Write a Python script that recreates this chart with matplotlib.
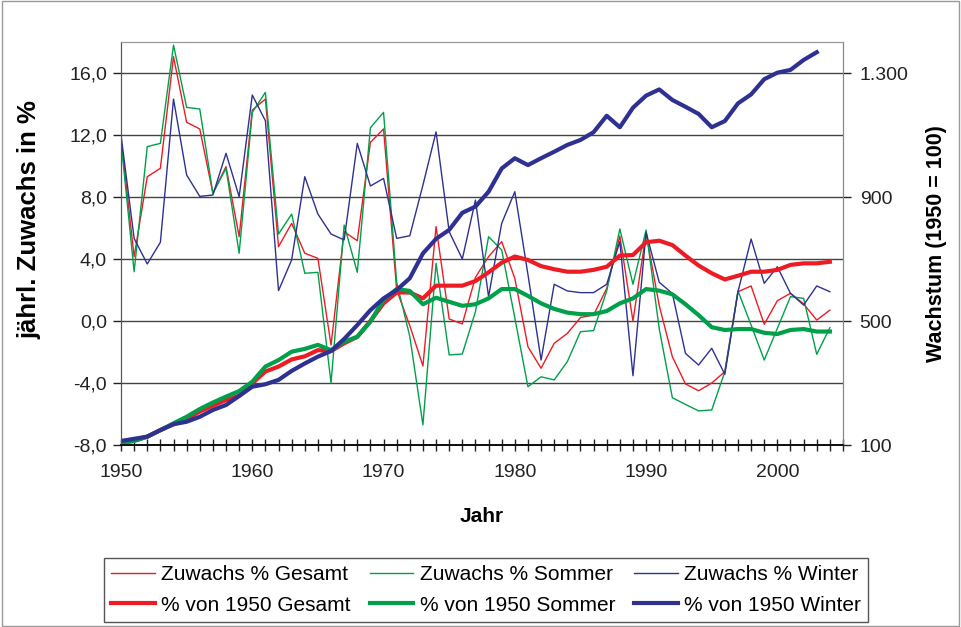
import numpy as np
import matplotlib
matplotlib.use("Agg")
import matplotlib.pyplot as plt
from matplotlib.ticker import MultipleLocator, FixedLocator, FuncFormatter
from matplotlib.patches import Rectangle

plt.rcParams['font.family'] = ['Liberation Sans', 'DejaVu Sans']

years = list(range(1950, 2005))

# jaehrlicher Zuwachs in % (linke Achse)
zuwachs_gesamt = [11.8, 4.15, 9.31, 9.85, 17.05, 12.82, 12.39, 8.24, 9.96, 5.44,
                  13.61, 14.32, 4.8, 6.3, 4.37, 4.04, -1.55, 5.76, 5.18, 11.53,
                  12.39, 2.0, -0.3, -2.9, 6.09, 0.13, -0.19, 2.82, 4.15, 5.12,
                  2.75, -1.66, -3.05, -1.44, -0.8, 0.22, 0.39, 2.1, 5.48, 0.0,
                  5.66, 1.0, -2.3, -4.06, -4.5, -4.0, -3.27, 1.89, 2.26, -0.21,
                  1.31, 1.79, 1.1, 0.06, 0.7]
zuwachs_sommer = [11.6, 3.18, 11.25, 11.46, 17.8, 13.78, 13.68, 8.24, 9.85, 4.37,
                  13.46, 14.75, 5.61, 6.9, 3.08, 3.14, -4.0, 6.19, 3.14, 12.47,
                  13.46, 2.5, -1.0, -6.7, 3.72, -2.19, -2.13, 0.6, 5.44, 4.58,
                  0.2, -4.24, -3.6, -3.8, -2.62, -0.69, -0.62, 1.94, 5.94, 2.37,
                  5.87, -0.5, -4.95, -5.38, -5.8, -5.74, -3.27, 1.94, -0.26, -2.52,
                  -0.47, 1.57, 1.46, -2.15, -0.43]
zuwachs_winter = [12.0, 5.33, 3.68, 5.08, 14.32, 9.42, 8.04, 8.13, 10.82, 8.02,
                  14.58, 12.92, 1.96, 3.94, 9.31, 6.9, 5.61, 5.23, 11.46, 8.71,
                  9.2, 5.33, 5.5, 8.77, 12.2, 5.76, 4.0, 7.8, 1.57, 6.3,
                  8.34, 3.0, -2.52, 2.37, 1.94, 1.83, 1.83, 2.37, 5.12, -3.53,
                  5.72, 2.5, 1.78, -2.09, -2.84, -1.76, -3.44, 1.89, 5.29, 2.43,
                  3.5, 1.78, 1.03, 2.26, 1.89]

# Wachstum, 1950 = 100 (rechte Achse)
index_gesamt = [108, 114, 127, 148, 167, 184, 208, 227, 245, 259,
                299, 337, 353, 376, 386, 406, 403, 428, 449, 500,
                557, 592, 592, 573, 614, 614, 614, 629, 657, 688,
                708, 697, 677, 667, 659, 659, 665, 675, 711, 713,
                754, 759, 745, 711, 679, 654, 634, 646, 659, 659,
                665, 681, 686, 686, 691]
index_sommer = [106, 113, 127, 148, 170, 191, 216, 237, 256, 274,
                304, 353, 374, 401, 410, 423, 406, 433, 449, 498,
                568, 603, 597, 554, 575, 562, 549, 554, 573, 603,
                603, 581, 557, 539, 527, 522, 522, 532, 557, 573,
                603, 598, 586, 554, 519, 480, 471, 474, 474, 462,
                458, 471, 474, 466, 466]
index_winter = [113, 120, 127, 148, 167, 175, 191, 213, 229, 258,
                288, 296, 310, 339, 363, 385, 403, 442, 487, 535,
                573, 600, 638, 718, 765, 794, 849, 869, 917, 992,
                1025, 1003, 1025, 1046, 1068, 1084, 1109, 1162, 1125, 1188,
                1227, 1247, 1213, 1191, 1168, 1125, 1145, 1202, 1231, 1280,
                1301, 1310, 1342, 1367, np.nan]

red = '#ed1c24'
green = '#00a04b'
blue = '#2e3192'

fig = plt.figure(figsize=(9.61, 6.27), dpi=100)
ax = fig.add_axes([121/961, 1-445/627, (843-121)/961, (445-42)/627])
ax2 = ax.twinx()

l1, = ax.plot(years, zuwachs_gesamt, color=red, lw=1.0, label='Zuwachs % Gesamt')
l2, = ax.plot(years, zuwachs_sommer, color=green, lw=1.0, label='Zuwachs % Sommer')
l3, = ax.plot(years, zuwachs_winter, color=blue, lw=1.0, label='Zuwachs % Winter')
l4, = ax2.plot(years, index_gesamt, color=red, lw=3.0, label='% von 1950 Gesamt')
l5, = ax2.plot(years, index_sommer, color=green, lw=3.0, label='% von 1950 Sommer')
l6, = ax2.plot(years, index_winter, color=blue, lw=3.0, label='% von 1950 Winter')

ax.set_xlim(1950, 2005)
ax.set_ylim(-8, 18)
ax2.set_ylim(100, 1400)

# gridlines
ax.set_yticks(np.arange(-8, 17, 4))
ax.yaxis.grid(True, color='#444444', lw=1.0)
ax.set_axisbelow(True)
ax.yaxis.set_major_formatter(FuncFormatter(lambda v, p: ('%.1f' % v).replace('.', ',')))
ax2.yaxis.set_major_locator(FixedLocator([100, 500, 900, 1300]))
ax2.yaxis.set_major_formatter(FuncFormatter(lambda v, p: '{:,.0f}'.format(v).replace(',', '.')))

ax.xaxis.set_major_locator(FixedLocator(range(1950, 2001, 10)))
ax.xaxis.set_minor_locator(MultipleLocator(1))
ax.tick_params(axis='x', which='both', direction='inout', length=9, width=1, colors='#222222',
               labelsize=14, pad=9)
ax.tick_params(axis='y', direction='out', length=6, width=1, colors='#222222', labelsize=14, pad=4)
ax2.tick_params(axis='y', direction='out', length=6, width=1, colors='#222222', labelsize=14, pad=6)

for a in (ax, ax2):
    a.spines['top'].set_color('#999999')
    a.spines['right'].set_color('#888888')
    a.spines['left'].set_color('#555555')
    a.spines['bottom'].set_color('#111111')
    a.spines['bottom'].set_linewidth(1.3)

ax.set_xlabel('Jahr', fontsize=15, fontweight='bold', labelpad=19)
ax.set_ylabel('jährl. Zuwachs in %', fontsize=18.5, fontweight='bold')
ax.yaxis.set_label_coords(-0.110, 0.56)
ax2.set_ylabel('Wachstum (1950 = 100)', fontsize=15.5, fontweight='bold')
ax2.yaxis.set_label_coords(1.115, 0.5)

handles = [l1, l4, l2, l5, l3, l6]
fig.legend(handles=handles, labels=[h.get_label() for h in handles], ncol=3,
           loc='center', bbox_to_anchor=(486/961, 1-590/627), fontsize=15,
           frameon=True, fancybox=False, edgecolor='#555555', framealpha=1,
           handlelength=2.1, columnspacing=0.9, handletextpad=0.3,
           borderpad=0.35, labelspacing=0.55)

fig.patches.append(Rectangle((0.002, 0.002), 0.996, 0.996, transform=fig.transFigure,
                             fill=False, edgecolor='#999999', lw=1.0))

fig.savefig('out.png', dpi=100)
